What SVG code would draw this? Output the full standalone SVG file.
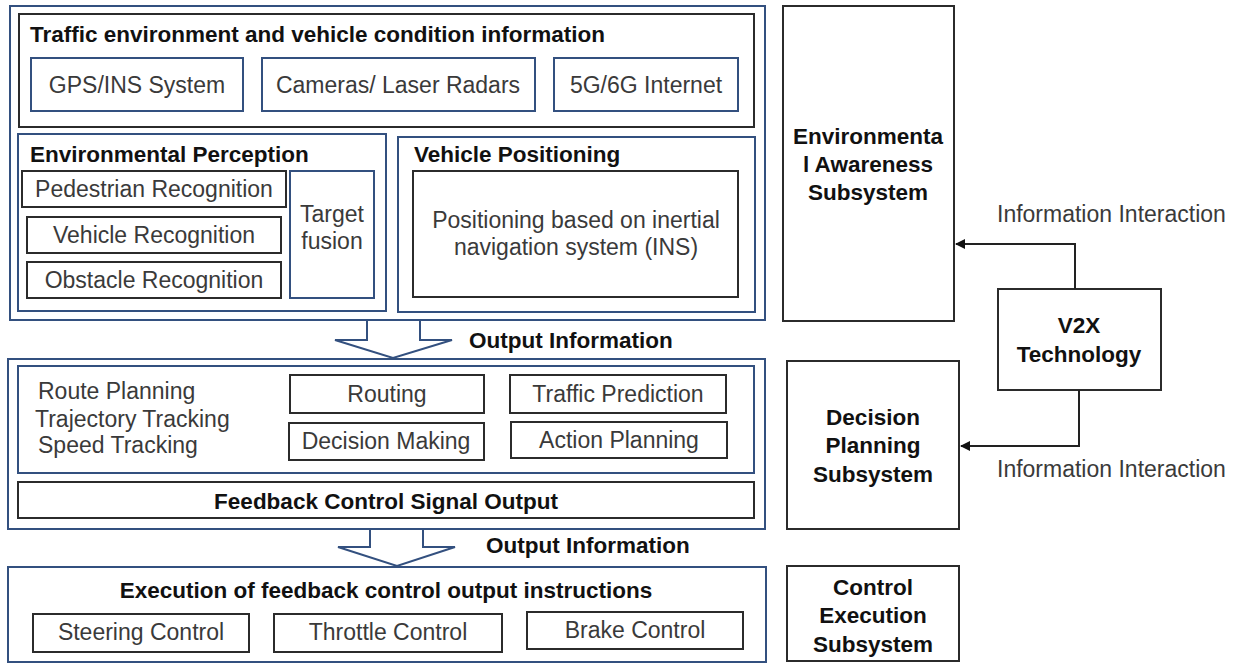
<svg xmlns="http://www.w3.org/2000/svg" width="1235" height="663" viewBox="0 0 1235 663">
<style>
.bg{fill:#ffffff}
.blue{fill:#ffffff;stroke:#33507f;stroke-width:2}
.dark{fill:#ffffff;stroke:#2b2b2b;stroke-width:2}
.t{font-family:"Liberation Sans",Arial,sans-serif;font-size:23px;fill:#3a3a3a}
.c{text-anchor:middle}
.b{font-family:"Liberation Sans",Arial,sans-serif;font-size:22.5px;font-weight:bold;fill:#111111}
.line{fill:none;stroke:#222222;stroke-width:2}
.barrow{fill:#ffffff;stroke:#33507f;stroke-width:2;stroke-linejoin:miter}
</style>
<defs>
<marker id="ah" viewBox="0 0 10 10" refX="9" refY="5" markerWidth="5" markerHeight="5" orient="auto">
<path d="M0,0 L10,5 L0,10 z" fill="#111111"/>
</marker>
</defs>
<rect class="bg" x="0" y="0" width="1235" height="663"/>

<g id="env-block">
<rect class="blue" x="10" y="6" width="755" height="314"/>
</g>
<g id="traffic-info">
<rect class="dark" x="19" y="14" width="735" height="113"/>
<text class="b" x="30" y="42">Traffic environment and vehicle condition information</text>
</g>
<g id="gps"><rect class="blue" x="31" y="58" width="212" height="53"/><text class="t c" x="137" y="93">GPS/INS System</text></g>
<g id="cameras"><rect class="blue" x="262" y="58" width="273" height="53"/><text class="t c" x="398" y="93">Cameras/ Laser Radars</text></g>
<g id="internet"><rect class="blue" x="554" y="58" width="184" height="53"/><text class="t c" x="646" y="93">5G/6G Internet</text></g>

<g id="env-perception">
<rect class="blue" x="18" y="134" width="368" height="177"/>
<text class="b" x="30" y="162">Environmental Perception</text>
</g>
<g id="pedestrian"><rect class="dark" x="22" y="171" width="264" height="36"/><text class="t c" x="154" y="197">Pedestrian Recognition</text></g>
<g id="vehicle-rec"><rect class="dark" x="27" y="217" width="254" height="36"/><text class="t c" x="154" y="243">Vehicle Recognition</text></g>
<g id="obstacle"><rect class="dark" x="27" y="262" width="254" height="36"/><text class="t c" x="154" y="288">Obstacle Recognition</text></g>
<g id="target-fusion"><rect class="blue" x="290" y="171" width="84" height="127"/><text class="t c" x="332" y="222">Target</text><text class="t c" x="332" y="249">fusion</text></g>

<g id="vehicle-positioning">
<rect class="blue" x="398" y="137" width="357" height="175"/>
<text class="b" x="414" y="162">Vehicle Positioning</text>
</g>
<g id="ins-positioning"><rect class="dark" x="413" y="171" width="325" height="126"/><text class="t c" x="576" y="228">Positioning based on inertial</text><text class="t c" x="576" y="255">navigation system (INS)</text></g>

<g id="decision-block">
<rect class="blue" x="8" y="359" width="757" height="170"/>
<rect class="blue" x="18" y="366" width="736" height="107"/>
<text class="t" x="38" y="399">Route Planning</text>
<text class="t" x="35" y="427">Trajectory Tracking</text>
<text class="t" x="38" y="453">Speed Tracking</text>
</g>
<g id="routing"><rect class="dark" x="290" y="375" width="194" height="38"/><text class="t c" x="387" y="402">Routing</text></g>
<g id="decision-making"><rect class="dark" x="289" y="423" width="195" height="37"/><text class="t c" x="386" y="449">Decision Making</text></g>
<g id="traffic-prediction"><rect class="dark" x="510" y="375" width="216" height="38"/><text class="t c" x="618" y="402">Traffic Prediction</text></g>
<g id="action-planning"><rect class="dark" x="511" y="422" width="216" height="36"/><text class="t c" x="619" y="448">Action Planning</text></g>
<g id="feedback"><rect class="dark" x="18" y="482" width="736" height="36"/><text class="b c" x="386" y="509">Feedback Control Signal Output</text></g>

<g id="execution-block">
<rect class="blue" x="8" y="567" width="758" height="95"/>
<text class="b c" x="386" y="598">Execution of feedback control output instructions</text>
</g>
<g id="steering"><rect class="dark" x="33" y="614" width="216" height="38"/><text class="t c" x="141" y="640">Steering Control</text></g>
<g id="throttle"><rect class="dark" x="274" y="614" width="228" height="38"/><text class="t c" x="388" y="640">Throttle Control</text></g>
<g id="brake"><rect class="dark" x="527" y="612" width="216" height="37"/><text class="t c" x="635" y="638">Brake Control</text></g>

<g id="env-awareness"><rect class="dark" x="783" y="6" width="171" height="315"/>
<text class="b c" x="868" y="144">Environmenta</text><text class="b c" x="868" y="172">l Awareness</text><text class="b c" x="868" y="200">Subsystem</text></g>
<g id="decision-planning"><rect class="dark" x="787" y="361" width="172" height="168"/>
<text class="b c" x="873" y="425">Decision</text><text class="b c" x="873" y="453">Planning</text><text class="b c" x="873" y="482">Subsystem</text></g>
<g id="control-execution"><rect class="dark" x="787" y="566" width="172" height="95"/>
<text class="b c" x="873" y="595">Control</text><text class="b c" x="873" y="623">Execution</text><text class="b c" x="873" y="652">Subsystem</text></g>
<g id="v2x"><rect class="dark" x="998" y="289" width="163" height="101"/>
<text class="b c" x="1079" y="333">V2X</text><text class="b c" x="1079" y="362">Technology</text></g>

<g id="connectors">
<path class="barrow" d="M367,321 L367,340 L335,340 L393,358 L452,340 L420,340 L420,321"/>
<path class="barrow" d="M370,530 L370,547 L338,547 L397,566 L455,547 L423,547 L423,530"/>
<text class="b" x="469" y="348">Output Information</text>
<text class="b" x="486" y="553">Output Information</text>
<path class="line" d="M1075,289 L1075,244 L956,244" marker-end="url(#ah)"/>
<path class="line" d="M1079,390 L1079,446 L961,446" marker-end="url(#ah)"/>
<text class="t" x="997" y="222">Information Interaction</text>
<text class="t" x="997" y="477">Information Interaction</text>
</g>
</svg>
